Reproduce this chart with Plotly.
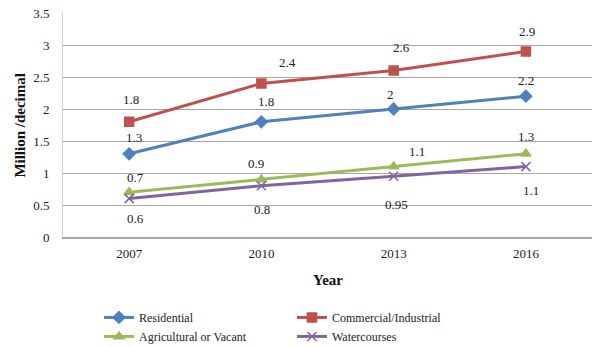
import plotly.graph_objects as go

years = ["2007", "2010", "2013", "2016"]
residential = [1.3, 1.8, 2.0, 2.2]
commercial = [1.8, 2.4, 2.6, 2.9]
agricultural = [0.7, 0.9, 1.1, 1.3]
watercourses = [0.6, 0.8, 0.95, 1.1]

res_labels = ["1.3", "1.8", "2", "2.2"]
com_labels = ["1.8", "2.4", "2.6", "2.9"]
agr_labels = ["0.7", "0.9", "1.1", "1.3"]
wat_labels = ["0.6", "0.8", "0.95", "1.1"]

y_ticks = [0, 0.5, 1, 1.5, 2, 2.5, 3, 3.5]
y_ticktext = ["0", "0.5", "1", "1.5", "2", "2.5", "3", "3.5"]

FONT = "Liberation Serif"

series = [
    ("Residential", residential, res_labels, "#4F81BD", "diamond", 9,
     [(5, 16), (5, 20), (-3, 15), (0, 16)]),
    ("Commercial/Industrial", commercial, com_labels, "#C0504D", "square", 9,
     [(2, 22), (26, 21), (8, 23), (1, 20)]),
    ("Agricultural or Vacant", agricultural, agr_labels, "#9BBB59", "triangle-up", 9,
     [(6, 15), (-5, 16), (23, 15), (0, 17)]),
    ("Watercourses", watercourses, wat_labels, "#8064A2", "x-thin", 9,
     [(6, -20), (1, -24), (3, -28), (5, -24)]),
]

fig = go.Figure()
annotations = []
for name, vals, labels, color, sym, msize, offs in series:
    fig.add_trace(go.Scatter(
        x=years, y=vals, name=name, mode="lines+markers",
        line=dict(color=color, width=3),
        marker=dict(symbol=sym, size=msize, color=color,
                    line=dict(color=color, width=1.5)),
    ))
    for i, (yv, lab, (dx, dy)) in enumerate(zip(vals, labels, offs)):
        annotations.append(dict(
            x=i, y=yv, xref="x", yref="y", text=lab, showarrow=False,
            xshift=dx, yshift=dy,
            font=dict(family=FONT, size=13, color="#222222"),
        ))

annotations.append(dict(
    x=-0.082, y=0.5, xref="paper", yref="paper", text="<b>Million /decimal</b>",
    textangle=-90, showarrow=False, xanchor="center", yanchor="middle",
    font=dict(family=FONT, size=15, color="#111111"),
))
annotations.append(dict(
    x=0.5, y=-0.192, xref="paper", yref="paper", text="<b>Year</b>",
    showarrow=False, xanchor="center", yanchor="middle",
    font=dict(family=FONT, size=15, color="#111111"),
))

fig.update_layout(
    width=592, height=347,
    margin=dict(l=63, r=0, t=13, b=110),
    paper_bgcolor="white", plot_bgcolor="white",
    showlegend=True,
    legend=dict(
        orientation="h", x=0.068, y=0.127, xanchor="left", yanchor="top",
        xref="paper", yref="container",
        entrywidth=148, entrywidthmode="pixels",
        font=dict(family=FONT, size=12, color="#222222"),
        itemwidth=30, tracegroupgap=0,
    ),
    annotations=annotations,
)
fig.update_xaxes(
    type="category", range=[-0.5, 3.5], showgrid=False,
    showline=True, linecolor="#A6A6A6", linewidth=1.5,
    ticks="", ticklabelstandoff=4,
    tickfont=dict(family=FONT, size=13, color="#222222"),
)
fig.update_yaxes(
    range=[0, 3.5], tickvals=y_ticks, ticktext=y_ticktext,
    showgrid=True, gridcolor="#A6A6A6", gridwidth=1.2,
    showline=True, linecolor="#D0D0D0", linewidth=1,
    zeroline=False, ticks="", ticklabelstandoff=10,
    tickfont=dict(family=FONT, size=13, color="#222222"),
)

fig.write_html("out.html")
